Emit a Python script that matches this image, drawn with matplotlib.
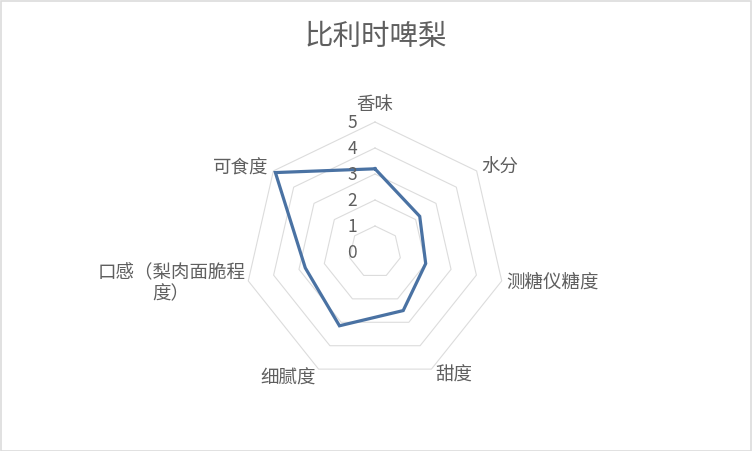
import numpy as np
import matplotlib
matplotlib.use("Agg")
import matplotlib.pyplot as plt
from matplotlib.patches import Rectangle

plt.rcParams['font.family'] = ['Noto Sans CJK SC', 'DejaVu Sans']

title = "比利时啤梨"
categories = ["香味", "水分", "测糖仪糖度", "甜度", "细腻度", "口感（梨肉面脆程\n度）", "可食度"]
values = [3.2, 2.2, 2.0, 2.5, 3.15, 2.75, 4.9]
ring_values = [1, 2, 3, 4, 5]
tick_labels = ["0", "1", "2", "3", "4", "5"]

text_color = "#5f5f5f"
grid_color = "#dcdcdc"
line_color = "#4a72a3"

W, H = 752, 452
fig = plt.figure(figsize=(W / 100, H / 100), dpi=100)
fig.patch.set_facecolor("white")

cx, cy, R = 375, H - 253, 130
ax = fig.add_axes([(cx - R) / W, (cy - R) / H, 2 * R / W, 2 * R / H], projection="polar")
ax.set_theta_offset(np.pi / 2)
ax.set_theta_direction(-1)
ax.set_ylim(0, 5)
ax.grid(False)
ax.spines["polar"].set_visible(False)
ax.set_xticks([])
ax.set_yticks([])
ax.patch.set_alpha(0)

n = len(categories)
angles = np.arange(n) * 2 * np.pi / n
closed_angles = np.append(angles, angles[0])

for rv in ring_values:
    ax.plot(closed_angles, [rv] * (n + 1), color=grid_color, lw=0.8, zorder=1, clip_on=False)

ax.plot(closed_angles, values + [values[0]], color=line_color, lw=2.3, zorder=3,
        solid_joinstyle="miter", clip_on=False)

# radial tick labels
for i, t in enumerate(tick_labels):
    ax.annotate(t, xy=(0, i), xytext=(-23, 0), textcoords="offset pixels",
                ha="center", va="center", fontsize=12.5, color=text_color,
                annotation_clip=False)

offsets = [(0, 18, "center"), (5, 4, "left"), (5, -1, "left"), (4, -5, "left"),
           (-3, -8, "right"), (-3, -2, "right"), (-5, 3, "right")]
for ang, lab, (dx, dy, ha) in zip(angles, categories, offsets):
    ax.annotate(lab, xy=(ang, 5), xytext=(dx, dy), textcoords="offset pixels",
                ha=ha, va="center", fontsize=13.3, color=text_color,
                multialignment="center", annotation_clip=False, linespacing=1.25)

fig.text(376 / W, 1 - 37 / H, title, ha="center", va="center", fontsize=20.5, color=text_color)

fig.patches.append(Rectangle((0.5 / W, 0.5 / H), 1 - 2 / W, 1 - 2 / H, transform=fig.transFigure,
                             fill=False, edgecolor=grid_color, lw=1.2))

fig.savefig("out.png", dpi=100, facecolor="white")
